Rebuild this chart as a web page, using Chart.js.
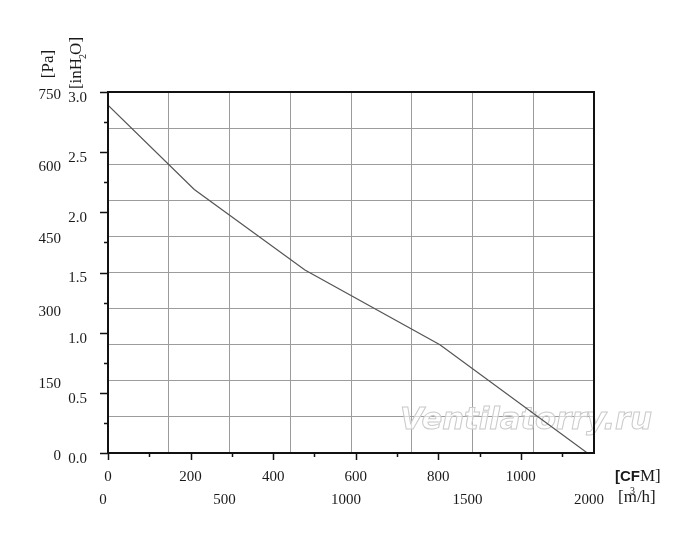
<!DOCTYPE html>
<html>
<head>
<meta charset="utf-8">
<title>Fan curve</title>
<script src="https://cdn.jsdelivr.net/npm/chart.js@4/dist/chart.umd.min.js"></script>
<style>
  body { margin: 0; background: #fff; }
  #wrap { width: 700px; height: 546px; }
</style>
</head>
<body>
<div id="wrap"><canvas id="fanChart" width="700" height="546"></canvas></div>
<script>
// curve (CFM vs inH2O)
const flowCfm = [0, 209, 477, 804, 1161];
const pressureInH2O = [2.89, 2.19, 1.52, 0.90, 0];

// tick labels
const cfmTicks = [0, 200, 400, 600, 800, 1000];
const m3hTicks = [0, 500, 1000, 1500, 2000];
const inH2OTicks = [0, 0.5, 1.0, 1.5, 2.0, 2.5, 3.0];
const paTicks = [0, 150, 300, 450, 600, 750];

// grid lines
const gridM3h = [0, 250, 500, 750, 1000, 1250, 1500, 1750, 2000];
const gridPa = [0, 75, 150, 225, 300, 375, 450, 525, 600, 675, 750];

const M3H_PER_CFM = 1.699;
const PA_PER_INH2O = 250;
const maxM3h = 2000;
const maxInH2O = 3.0;

const serif = '"Liberation Serif", "Times New Roman", serif';
Chart.defaults.font.family = serif;
Chart.defaults.font.size = 15;
Chart.defaults.color = '#1a1a1a';

function useTicks(list) {
    return function (scale) {
        scale.ticks = list.map(v => ({ value: v }));
    };
}

// frame, tick marks, watermark and axis titles
const decor = {
    id: 'decor',
    beforeDatasetsDraw(chart) {
        const ctx = chart.ctx;
        ctx.save();
        ctx.font = 'italic bold 30px "DejaVu Sans", sans-serif';
        const text = 'Ventilatorry.ru';
        const w = ctx.measureText(text).width;
        ctx.translate(400, 429);
        ctx.scale(252 / w, 1);
        ctx.textBaseline = 'alphabetic';
        ctx.fillStyle = 'rgba(255,255,255,0.6)';
        ctx.fillText(text, 0, 0);
        ctx.strokeStyle = '#cacaca';
        ctx.lineWidth = 1;
        ctx.strokeText(text, 0, 0);
        ctx.restore();
    },
    afterDraw(chart) {
        const ctx = chart.ctx;
        const a = chart.chartArea;
        const xs = chart.scales.x;
        const ys = chart.scales.y;
        ctx.save();
        ctx.strokeStyle = '#111';
        ctx.lineWidth = 2;
        ctx.strokeRect(a.left, a.top, a.right - a.left, a.bottom - a.top);

        ctx.lineWidth = 1.5;
        ctx.beginPath();
        for (let v = 0; v <= xs.max; v += 100) {
            const px = Math.round(xs.getPixelForValue(v)) + 0.5;
            const len = v % 200 === 0 ? 7 : 4;
            ctx.moveTo(px, a.bottom);
            ctx.lineTo(px, a.bottom + len);
        }
        for (let i = 0; i <= 12; i++) {
            const py = Math.round(ys.getPixelForValue(i * 0.25)) + 0.5;
            const len = i % 2 === 0 ? 8 : 4;
            ctx.moveTo(a.left, py);
            ctx.lineTo(a.left - len, py);
        }
        ctx.stroke();

        // y axis titles
        ctx.fillStyle = '#1a1a1a';
        ctx.textBaseline = 'middle';
        ctx.textAlign = 'left';
        ctx.save();
        ctx.translate(49, 64);
        ctx.rotate(-Math.PI / 2);
        ctx.font = '17px ' + serif;
        const paW = ctx.measureText('[Pa]').width;
        ctx.fillText('[Pa]', -paW / 2, 0);
        ctx.restore();

        ctx.save();
        ctx.translate(77, 63);
        ctx.rotate(-Math.PI / 2);
        ctx.font = '17px ' + serif;
        const p1 = '[inH', p2 = 'O]';
        const w1 = ctx.measureText(p1).width;
        const w2 = ctx.measureText(p2).width;
        ctx.font = '10px ' + serif;
        const ws = ctx.measureText('2').width;
        let x0 = -(w1 + w2 + ws - 2) / 2;
        ctx.font = '17px ' + serif;
        ctx.fillText(p1, x0, 0);
        ctx.font = '10px ' + serif;
        ctx.fillText('2', x0 + w1 - 1, 6);
        ctx.font = '17px ' + serif;
        ctx.fillText(p2, x0 + w1 + ws - 2, 0);
        ctx.restore();

        // x axis units
        let x = 615;
        ctx.font = 'bold 15px "Liberation Sans", Arial, sans-serif';
        ctx.fillText('[CF', x, 477);
        x += ctx.measureText('[CF').width;
        ctx.font = '17px ' + serif;
        ctx.fillText('M]', x, 477);

        x = 618;
        ctx.fillText('[m', x, 498);
        x += ctx.measureText('[m').width;
        ctx.font = '10px ' + serif;
        ctx.fillText('3', x - 7, 491);
        ctx.font = '17px ' + serif;
        ctx.fillText('/h]', x, 498);
        ctx.restore();
    }
};

new Chart(document.getElementById('fanChart'), {
    type: 'line',
    data: {
        datasets: [{
            data: flowCfm.map((f, i) => ({ x: f, y: pressureInH2O[i] })),
            xAxisID: 'x',
            yAxisID: 'y',
            borderColor: '#555',
            borderWidth: 1.2,
            pointRadius: 0,
            fill: false,
            tension: 0
        }]
    },
    options: {
        responsive: false,
        animation: false,
        devicePixelRatio: 1,
        layout: { padding: { top: 92, right: 106, left: 0, bottom: 0 } },
        plugins: { legend: { display: false }, tooltip: { enabled: false } },
        scales: {
            xGrid: {
                type: 'linear', position: 'bottom', weight: 0,
                min: 0, max: maxM3h,
                afterBuildTicks: useTicks(gridM3h),
                ticks: { display: false },
                grid: { color: '#9c9c9c', lineWidth: 1, drawTicks: false },
                border: { display: false },
                afterFit(s) { s.height = 0; }
            },
            x: {
                type: 'linear', position: 'bottom', weight: 1,
                min: 0, max: maxM3h / M3H_PER_CFM,
                afterBuildTicks: useTicks(cfmTicks),
                ticks: { padding: 15, autoSkip: false, maxRotation: 0, callback: v => String(v) },
                grid: { display: false, drawTicks: false },
                border: { display: false },
                afterFit(s) { s.height = 34; }
            },
            xM3h: {
                type: 'linear', position: 'bottom', weight: 2,
                min: 0, max: maxM3h,
                afterBuildTicks: useTicks(m3hTicks),
                ticks: { padding: 4, labelOffset: -5, autoSkip: false, maxRotation: 0, callback: v => String(v) },
                grid: { display: false, drawTicks: false },
                border: { display: false },
                afterFit(s) { s.height = 59; }
            },
            yGrid: {
                type: 'linear', position: 'left', weight: 0,
                min: 0, max: maxInH2O * PA_PER_INH2O,
                afterBuildTicks: useTicks(gridPa),
                ticks: { display: false },
                grid: { color: '#9c9c9c', lineWidth: 1, drawTicks: false },
                border: { display: false },
                afterFit(s) { s.width = 0; }
            },
            y: {
                type: 'linear', position: 'left', weight: 1,
                min: 0, max: maxInH2O,
                afterBuildTicks: useTicks(inH2OTicks),
                ticks: { padding: 21, labelOffset: 6, callback: v => v.toFixed(1) },
                grid: { display: false, drawTicks: false },
                border: { display: false },
                afterFit(s) { s.width = 44; }
            },
            yPa: {
                type: 'linear', position: 'left', weight: 2,
                min: 0, max: maxInH2O * PA_PER_INH2O,
                afterBuildTicks: useTicks(paTicks),
                ticks: { padding: 3, labelOffset: 3, callback: v => String(v) },
                grid: { display: false, drawTicks: false },
                border: { display: false },
                afterFit(s) { s.width = 64; }
            }
        }
    },
    plugins: [decor]
});
</script>
</body>
</html>
